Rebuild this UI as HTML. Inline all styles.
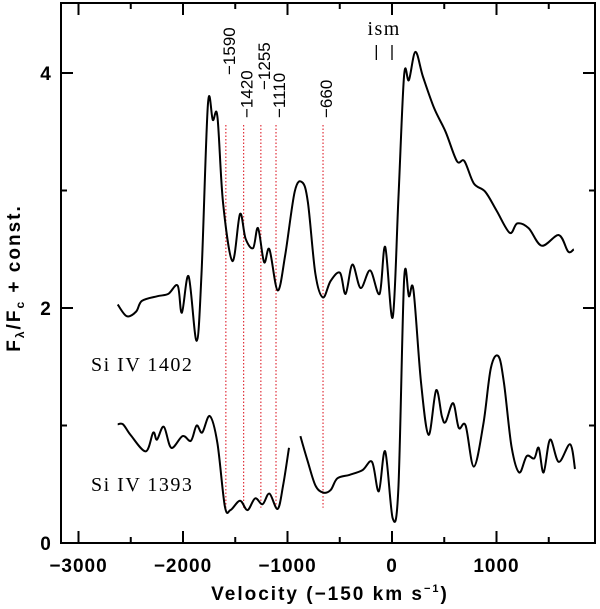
<!DOCTYPE html>
<html><head><meta charset="utf-8">
<style>
html,body{margin:0;padding:0;background:#fff;}
svg{display:block;}
.tl{font-family:"Liberation Sans",sans-serif;font-weight:bold;font-size:19px;letter-spacing:1px;}
.at{font-family:"Liberation Sans",sans-serif;font-weight:bold;font-size:19px;letter-spacing:2px;}
.ml{font-family:"Liberation Sans",sans-serif;font-size:17px;}
.sr{font-family:"Liberation Serif",serif;font-size:20px;letter-spacing:1.5px;}
</style></head>
<body>
<svg id="chart" width="600" height="609" viewBox="0 0 600 609">
<g id="axes"></g>
<g id="marks"></g>
</svg>
<script>
const xTicksMajor = [-3000, -2000, -1000, 0, 1000];
const xTicksMinor = [-2500, -1500, -500, 500, 1500];
const yTicksMajor = [0, 2, 4];
const yTicksMinor = [1, 3];
const upperV = [-2625,-2538,-2448,-2394,-2249,-2141,-2051,-2011,-1946,-1870,-1823,-1762,-1715,-1671,-1617,-1527,-1455,-1401,-1329,-1282,-1224,-1173,-1094,-1022,-931,-859,-805,-733,-661,-588,-498,-444,-379,-300,-209,-119,-65,7,61,116,162,224,296,404,513,621,693,783,892,1000,1126,1199,1307,1433,1596,1686,1740];
const upperF = [2.03,1.93,1.97,2.06,2.10,2.12,2.19,1.96,2.27,1.72,2.29,3.73,3.60,3.63,2.90,2.40,2.80,2.59,2.51,2.68,2.39,2.50,2.15,2.45,2.99,3.07,2.90,2.29,2.09,2.23,2.30,2.12,2.37,2.17,2.32,2.12,2.52,1.92,2.93,3.98,3.94,4.18,3.97,3.70,3.50,3.25,3.25,3.06,2.99,2.83,2.64,2.72,2.68,2.53,2.62,2.48,2.50];
const lowerAV = [-2625,-2574,-2502,-2357,-2285,-2249,-2184,-2112,-2004,-1924,-1870,-1816,-1744,-1671,-1599,-1545,-1455,-1383,-1310,-1238,-1173,-1094,-1040,-986];
const lowerAF = [1.01,1.01,0.92,0.78,0.94,0.88,0.99,0.81,0.91,0.87,1.00,0.94,1.08,0.85,0.31,0.28,0.36,0.28,0.38,0.33,0.42,0.29,0.50,0.81];
const lowerBV = [-877,-805,-733,-661,-588,-523,-408,-282,-191,-126,-65,7,61,116,162,206,278,350,422,477,513,585,639,704,783,874,946,1018,1072,1144,1217,1289,1361,1404,1451,1513,1596,1704,1751];
const lowerBF = [0.91,0.69,0.49,0.43,0.45,0.55,0.58,0.62,0.69,0.44,0.78,0.21,0.47,2.24,2.10,2.15,1.36,0.92,1.30,1.08,1.03,1.19,0.98,1.00,0.65,1.01,1.49,1.59,1.36,0.82,0.60,0.74,0.72,0.81,0.60,0.88,0.69,0.84,0.63];
const markVel = [-1590, -1420, -1255, -1110, -660];
const markLabels = ["\u22121590", "\u22121420", "\u22121255", "\u22121110", "\u2212660"];
const markLabelEnd = [75, 118, 90, 118, 118];
const ismVel = [-150, 0];

const L=61,R=595,T=3,B=543;
const X = v => 392 + v*0.1045;
const Y = f => 543 - f*117.5;
const NS='http://www.w3.org/2000/svg';
function mk(tag, attrs, parent){const e=document.createElementNS(NS,tag);for(const k in attrs)e.setAttribute(k,attrs[k]);parent.appendChild(e);return e;}
const ax=document.getElementById('axes'), mg=document.getElementById('marks');

let fr=mk('rect',{x:L,y:T,width:R-L,height:B-T,fill:'none',stroke:'#000','stroke-width':2},ax);



xTicksMajor.forEach(v=>{
  mk('line',{x1:X(v),x2:X(v),y1:B,y2:B-12,stroke:'#000','stroke-width':2},ax);
  mk('line',{x1:X(v),x2:X(v),y1:T,y2:T+12,stroke:'#000','stroke-width':2},ax);
  const t=mk('text',{x:X(v),y:572,'text-anchor':'middle',class:'tl'},ax);
  t.textContent=(v<0?'\u2212'+(-v):String(v));
  
  
});
xTicksMinor.forEach(v=>{
  mk('line',{x1:X(v),x2:X(v),y1:B,y2:B-6,stroke:'#000','stroke-width':2},ax);
  mk('line',{x1:X(v),x2:X(v),y1:T,y2:T+6,stroke:'#000','stroke-width':2},ax);
});
yTicksMajor.forEach(f=>{
  mk('line',{x1:L,x2:L+12,y1:Y(f),y2:Y(f),stroke:'#000','stroke-width':2},ax);
  mk('line',{x1:R,x2:R-12,y1:Y(f),y2:Y(f),stroke:'#000','stroke-width':2},ax);
  const t=mk('text',{x:46,y:Y(f)+7,'text-anchor':'middle',class:'tl'},ax);
  t.textContent=String(f);
  
  
});
yTicksMinor.forEach(f=>{
  mk('line',{x1:L,x2:L+6,y1:Y(f),y2:Y(f),stroke:'#000','stroke-width':2},ax);
  mk('line',{x1:R,x2:R-6,y1:Y(f),y2:Y(f),stroke:'#000','stroke-width':2},ax);
});
let xt=mk('text',{x:330,y:600,'text-anchor':'middle',class:'at'},ax);
xt.innerHTML='Velocity (\u2212150 km s<tspan font-size="11" dy="-8">\u22121</tspan><tspan dy="8">)</tspan>';


let yt=mk('text',{x:0,y:0,'text-anchor':'middle',class:'at',transform:'translate(20,278) rotate(-90)'},ax);
yt.innerHTML='F<tspan font-size="12" dy="4">\u03bb</tspan><tspan dy="-4">/F</tspan><tspan font-size="12" dy="4">c</tspan><tspan dy="-4"> + const.</tspan>';



function path(vs,fs){
  const p=vs.map((v,i)=>[X(v),Y(fs[i])]);
  let d='M'+p[0][0].toFixed(1)+','+p[0][1].toFixed(1);
  for(let i=0;i<p.length-1;i++){
    const p0=p[Math.max(0,i-1)],p1=p[i],p2=p[i+1],p3=p[Math.min(p.length-1,i+2)];
    const c1=[p1[0]+(p2[0]-p0[0])/6,p1[1]+(p2[1]-p0[1])/6];
    const c2=[p2[0]-(p3[0]-p1[0])/6,p2[1]-(p3[1]-p1[1])/6];
    d+=' C'+c1.map(n=>n.toFixed(1))+' '+c2.map(n=>n.toFixed(1))+' '+p2.map(n=>n.toFixed(1));
  }
  return d;
}
markVel.forEach((v,i)=>{
  const l=mk('line',{x1:X(v),x2:X(v),y1:125,y2:Y(0.3),stroke:'#e0303a','stroke-width':1.2,'stroke-dasharray':'1.5,2'},mg);
  
  
  const t=mk('text',{x:0,y:0,class:'ml',transform:`translate(${X(v)+9},${markLabelEnd[i]}) rotate(-90)`},mg);
  t.textContent=markLabels[i];
  
  
});
let s1=mk('path',{d:path(upperV,upperF),fill:'none',stroke:'#000','stroke-width':2},mg);


let s2=mk('path',{d:path(lowerAV,lowerAF),fill:'none',stroke:'#000','stroke-width':2},mg);


let s3=mk('path',{d:path(lowerBV,lowerBF),fill:'none',stroke:'#000','stroke-width':2},mg);


ismVel.forEach(v=>{
  const l=mk('line',{x1:X(v),x2:X(v),y1:45,y2:60,stroke:'#000','stroke-width':1.3},mg);
  
  
});
let it=mk('text',{x:X(-75),y:35,'text-anchor':'middle',class:'sr'},mg);
it.textContent='ism';


let l1=mk('text',{x:91,y:371,class:'sr'},mg);
l1.textContent='Si IV 1402';


let l2=mk('text',{x:91,y:491,class:'sr'},mg);
l2.textContent='Si IV 1393';


</script>
</body></html>
